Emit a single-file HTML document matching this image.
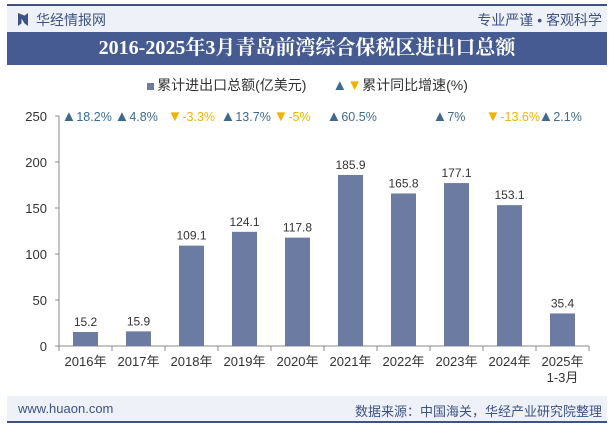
<!DOCTYPE html>
<html><head><meta charset="utf-8"><style>
body{margin:0;width:615px;height:427px;background:#fff;font-family:"Liberation Sans","Noto Sans CJK SC",sans-serif;overflow:hidden;position:relative}
.abs{position:absolute}
</style></head><body>
<div class="abs" style="left:7px;top:4px;width:600px;height:2px;background:#3d5285"></div>
<div class="abs" style="left:7px;top:6px;width:600px;height:26px;background:#eef2f8"></div>
<div class="abs" style="left:18px;top:13px;width:10px;height:13px;background:#3d5285;clip-path:polygon(0 0,35% 20%,35% 80%,0 100%,0 0,65% 20%,100% 0,100% 100%,65% 80%)"></div>
<div class="abs" style="left:36px;top:10px;font-size:14px;color:#3d5285">华经情报网</div>
<div class="abs" style="right:13px;top:10px;font-size:14px;color:#3d5285">专业严谨 • 客观科学</div>
<div class="abs" style="left:7px;top:32px;width:600px;height:33px;background:#455b91;color:#fff;font-family:'Liberation Serif','Noto Serif CJK SC',serif;font-weight:bold;font-size:20px;line-height:33px;text-align:center">2016-2025年3月青岛前湾综合保税区进出口总额</div>
<div class="abs" style="left:0;width:615px;top:75px;text-align:center;font-size:14px;color:#333">
<span><span style="display:inline-block;width:7px;height:7px;background:#6b7ba1;margin-right:3px"></span>累计进出口总额(亿美元)</span>
<span style="margin-left:22px"><span style="color:#3d6b8f;font-size:15px">▲</span><span style="color:#f0b400;font-size:15px">▼</span>累计同比增速(%)</span>
</div>
<svg class="abs" style="left:0;top:0" width="615" height="427" id="chart"></svg>
<div class="abs" style="left:7px;top:396px;width:600px;height:25px;background:#eef2f8"></div>
<div class="abs" style="left:18px;top:401px;font-size:13px;color:#3d5285">www.huaon.com</div>
<div class="abs" style="right:13px;top:401px;font-size:13px;color:#3d5285">数据来源：中国海关，华经产业研究院整理</div>
<div class="abs" style="left:7px;top:421px;width:600px;height:2px;background:#3d5285"></div>
<script>
const categories=["2016年","2017年","2018年","2019年","2020年","2021年","2022年","2023年","2024年","2025年"];
const values=[15.2,15.9,109.1,124.1,117.8,185.9,165.8,177.1,153.1,35.4];
const growth=[18.2,4.8,-3.3,13.7,-5,60.5,null,7,-13.6,2.1];
const yTicks=[0,50,100,150,200,250];
const NS="http://www.w3.org/2000/svg";
const svg=document.getElementById('chart');
const x0=59,cw=53,y0=346,y1=116,ymax=250;
const y=v=>y0-(v/ymax)*(y0-y1);
const cx=i=>x0+cw*i+cw/2;
function mk(t,a,txt,p){const e=document.createElementNS(NS,t);for(const k in a)e.setAttribute(k,a[k]);if(txt!=null)e.textContent=txt;(p||svg).appendChild(e);return e;}
let e=mk('line',{x1:x0,x2:x0,y1:y1,y2:y0,stroke:'#888'});

e=mk('line',{x1:x0,x2:x0+cw*10,y1:y0,y2:y0,stroke:'#888'});

yTicks.forEach(t=>{
 let l=mk('line',{x1:x0-4,x2:x0,y1:y(t),y2:y(t),stroke:'#888'});
 
 let tx=mk('text',{x:x0-12,y:y(t)+5,'text-anchor':'end','font-size':13,fill:'#333'},t);
 
});
for(let i=0;i<=10;i++){let l=mk('line',{x1:x0+cw*i,x2:x0+cw*i,y1:y0,y2:y0+5,stroke:'#888'});
 }
categories.forEach((c,i)=>{
 let r=mk('rect',{x:cx(i)-12.5,y:y(values[i]),width:25,height:y0-y(values[i]),fill:'#6b7ba1'});
 
 let v=mk('text',{x:cx(i),y:y(values[i])-6,'text-anchor':'middle','font-size':12,fill:'#333'},values[i]);
 
 let xl=mk('text',{x:cx(i),y:y0+20,'text-anchor':'middle','font-size':13,fill:'#333'},c);
 
 if(i===9){let s=mk('text',{x:cx(i),y:y0+36,'text-anchor':'middle','font-size':13,fill:'#333'},'1-3月');
  }
 const g=growth[i];
 if(g!==null){const up=g>=0;
  let gt=mk('text',{x:cx(i)-24,y:y1+5,'font-size':12.5,fill:up?'#3d6b8f':'#f0b400'});
  
  mk('tspan',{'font-size':15},up?'▲':'▼',gt);
  mk('tspan',{},g+'%',gt);}
});
</script>
</body></html>
